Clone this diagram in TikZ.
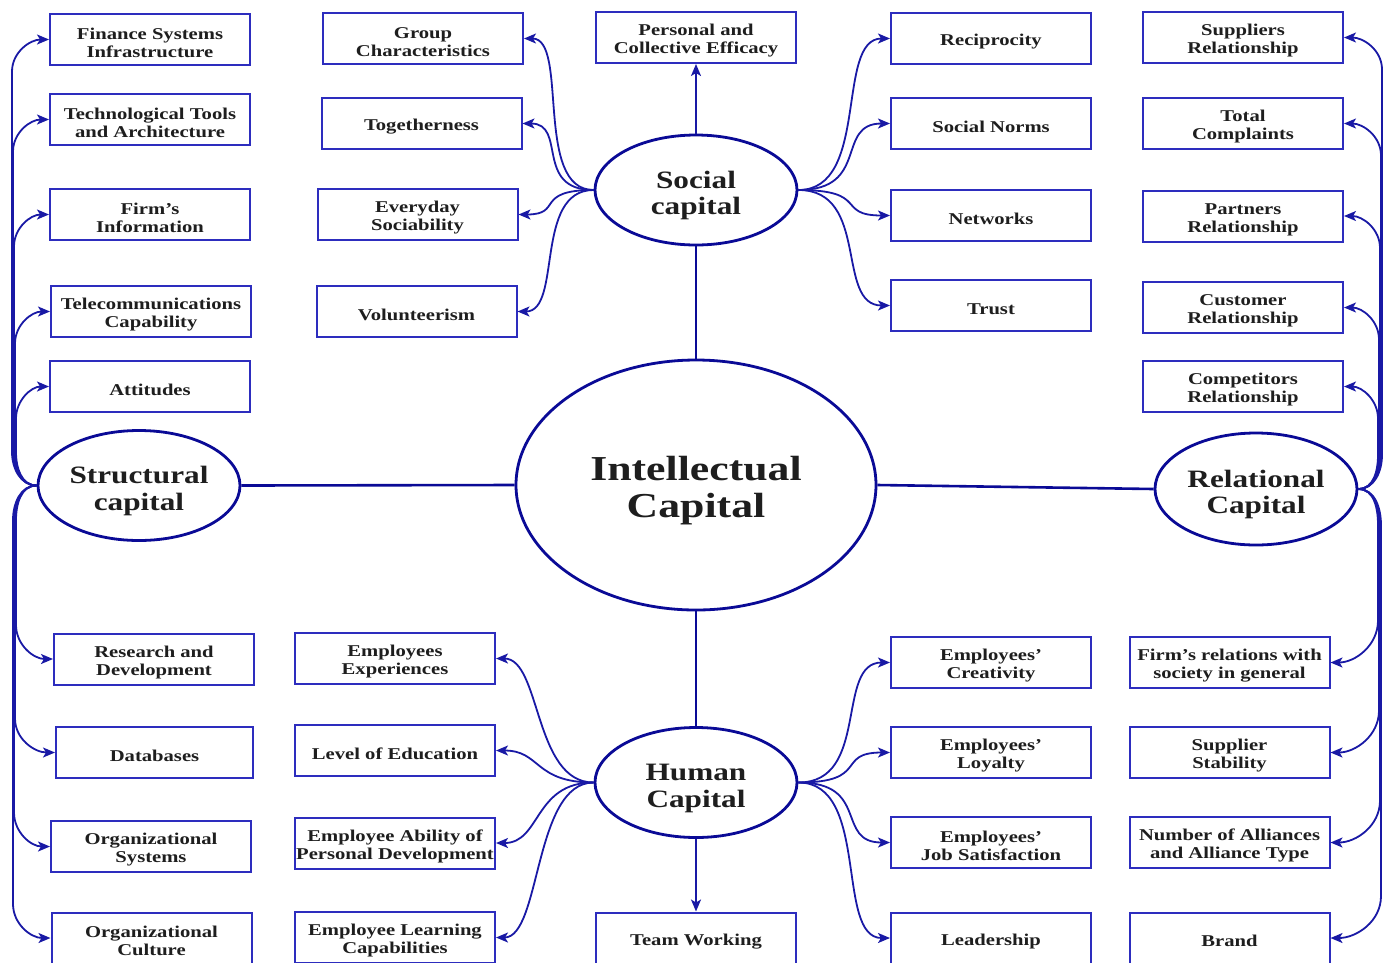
\documentclass[tikz,border=0pt]{standalone}
\usepackage{fontspec}
\setmainfont{Liberation Serif}[FakeStretch=1.25]
\usetikzlibrary{arrows.meta,shapes.geometric}
\definecolor{boxblue}{RGB}{45,45,190}
\definecolor{linkblue}{RGB}{25,25,165}
\definecolor{ellblue}{RGB}{10,10,150}
\definecolor{ink}{RGB}{30,30,30}
% invisible struts that set the top of the first text line
\newcommand\itemtop{\rule{0pt}{18pt}}
\newcommand\hubtop{\rule{0pt}{28pt}}
\newcommand\coretop{\rule{0pt}{35pt}}
\tikzset{
  item/.style={draw=boxblue, line width=2pt, minimum width=200pt, minimum height=51pt,
    inner sep=0pt, align=center, text=ink, font=\fontsize{16.5}{18}\selectfont\bfseries},
  hub/.style={ellipse, draw=ellblue, line width=2.8pt, fill=white, inner sep=0pt,
    minimum width=202pt, minimum height=110pt, align=center, text=ink,
    font=\fontsize{25}{26.5}\selectfont\bfseries},
  core/.style={hub, minimum width=360pt, minimum height=250pt,
    font=\fontsize{35}{37}\selectfont\bfseries},
  link/.style={draw=linkblue, line width=1.8pt,
    -{Stealth[length=12pt,width=10pt,inset=3pt]}},
  spoke/.style={draw=ellblue, line width=2.6pt},
}
\begin{document}
\begin{tikzpicture}[x=1pt,y=1pt]
\useasboundingbox[fill=white] (0,0) rectangle (1391,-962);

% central ellipses
\node[core] (ic) at (696,-485) {\coretop Intellectual\\Capital};
\node[hub] (sc) at (696,-190) {\hubtop Social\\capital};
\node[hub] (hc) at (696,-782.5) {\hubtop Human\\Capital};
\node[hub] (st) at (139,-485.5) {\hubtop Structural\\capital};
\node[hub, minimum height=112pt] (rc) at (1256,-489) {\hubtop Relational\\Capital};

% structural capital items
\node[item] (fs) at (150,-39.5) {\itemtop Finance Systems\\Infrastructure};
\node[item] (tt) at (150,-119.5) {\itemtop Technological Tools\\and Architecture};
\node[item] (fi) at (150,-214.5) {\itemtop Firm’s\\Information};
\node[item] (tc) at (151,-311.5) {\itemtop Telecommunications\\Capability};
\node[item] (at) at (150,-386.5) {\itemtop Attitudes};
\node[item] (rd) at (154,-659) {\itemtop Research and\\Development};
\node[item, minimum width=197pt] (db) at (154.5,-752.5) {\itemtop Databases};
\node[item] (os) at (151,-846.5) {\itemtop Organizational\\Systems};
\node[item] (oc) at (151.5,-938) {\itemtop Organizational\\Culture};

% social capital items
\node[item] (gc) at (423,-38.5) {\itemtop Group\\Characteristics};
\node[item] (tg) at (421.5,-123.5) {\itemtop Togetherness};
\node[item] (es) at (417.5,-214.5) {\itemtop Everyday\\Sociability};
\node[item] (vo) at (416.5,-311.5) {\itemtop Volunteerism};
\node[item] (pe) at (696,-37.5) {\itemtop Personal and\\Collective Efficacy};
\node[item] (re) at (991,-38.5) {\itemtop Reciprocity};
\node[item] (sn) at (991,-123.5) {\itemtop Social Norms};
\node[item] (nw) at (991,-215.5) {\itemtop Networks};
\node[item] (tr) at (991,-305.5) {\itemtop Trust};

% human capital items
\node[item] (ee) at (395,-658.5) {\itemtop Employees\\Experiences};
\node[item] (le) at (395,-750.5) {\itemtop Level of Education};
\node[item] (ea) at (395,-843) {\itemtop Employee Ability of\\Personal Development};
\node[item] (el) at (395,-937.5) {\itemtop Employee Learning\\Capabilities};
\node[item] (tw) at (696,-938) {\itemtop Team Working};
\node[item] (ec) at (991,-662.5) {\itemtop Employees’\\Creativity};
\node[item] (ly) at (991,-752.5) {\itemtop Employees’\\Loyalty};
\node[item] (js) at (991,-842.5) {\itemtop Employees’\\Job Satisfaction};
\node[item] (ld) at (991,-938) {\itemtop Leadership};

% relational capital items
\node[item] (sr) at (1243,-37.5) {\itemtop Suppliers\\Relationship};
\node[item] (tcp) at (1243,-123.5) {\itemtop Total\\Complaints};
\node[item] (pr) at (1243,-216) {\itemtop Partners\\Relationship};
\node[item] (cr) at (1243,-307.5) {\itemtop Customer\\Relationship};
\node[item] (cpr) at (1243,-386.5) {\itemtop Competitors\\Relationship};
\node[item] (fr) at (1229.5,-662.5) {\itemtop Firm’s relations with\\society in general};
\node[item] (ss) at (1229.5,-752.5) {\itemtop Supplier\\Stability};
\node[item] (na) at (1229.5,-842.5) {\itemtop Number of Alliances\\and Alliance Type};
\node[item] (br) at (1229.5,-938) {\itemtop Brand};

% spokes from the core
\draw[spoke] (ic.north) -- (sc.south);
\draw[spoke] (ic.south) -- (hc.north);
\draw[spoke] (ic.west) -- (st.east);
\draw[spoke] (ic.east) -- (rc.west);

% straight arrows
\draw[link] (sc.north) -- (pe.south);
\draw[link] (hc.south) -- (tw.north);

% social capital fans
\foreach \b in {gc,tg,es,vo}
  \draw[link] (sc.west) to[out=180,in=0,out distance=60,in distance=45] (\b.east);
\foreach \b in {re,sn,nw,tr}
  \draw[link] (sc.east) to[out=0,in=180,out distance=72,in distance=55] (\b.west);

% human capital fans
\foreach \b in {ee,le,ea,el}
  \draw[link] (hc.west) to[out=180,in=0,out distance=60,in distance=45] (\b.east);
\foreach \b in {ec,ly,js,ld}
  \draw[link] (hc.east) to[out=0,in=180,out distance=72,in distance=55] (\b.west);

% structural capital: bundle running down the left edge
\foreach \b/\x/\y in {fs/12/-39.5, tt/13/-119.5, fi/14/-214.5, tc/15/-311.5, at/16/-386.5}
  \draw[link] (st.west) to[out=180,in=-90] (\x,-452) -- (\x,\y-32) to[out=90,in=180] (\b.west);
\foreach \b/\x/\y in {rd/16/-659, db/15/-752.5, os/14/-846.5, oc/13/-938}
  \draw[link] (st.west) to[out=180,in=90] (\x,-520) -- (\x,\y+34) to[out=-90,in=180] (\b.west);

% relational capital: bundle running down the right edge
\foreach \b/\x/\y in {sr/1382/-37.5, tcp/1381/-123.5, pr/1380/-216, cr/1379/-307.5, cpr/1378/-386.5}
  \draw[link] (rc.east) to[out=0,in=-90] (\x,-455) -- (\x,\y-32) to[out=90,in=0] (\b.east);
\foreach \b/\x/\y in {fr/1378/-662.5, ss/1379/-752.5, na/1380/-842.5, br/1381/-938}
  \draw[link] (rc.east) to[out=0,in=90] (\x,-525) -- (\x,\y+42) to[out=-90,in=0] (\b.east);
\end{tikzpicture}
\end{document}
